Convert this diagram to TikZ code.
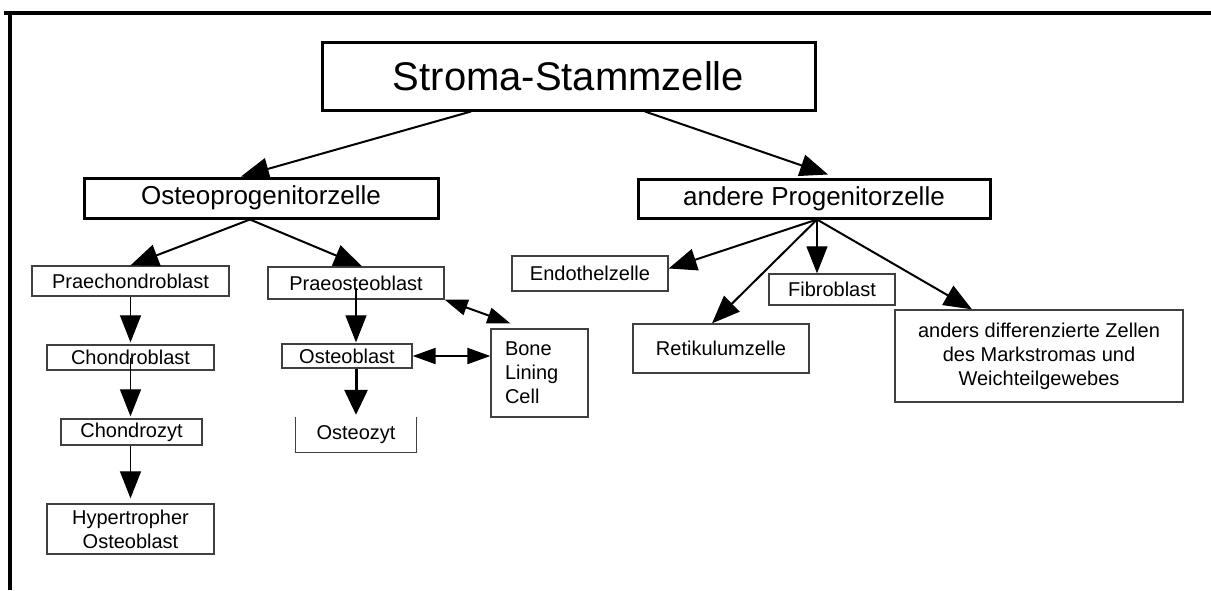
\documentclass[tikz,border=0pt]{standalone}
\usepackage{fontspec}
\setmainfont{Liberation Sans}
\usetikzlibrary{arrows.meta}

\begin{document}
\begin{tikzpicture}[x=1pt, y=-1pt,
        bigbox/.style={draw, line width=3pt, inner sep=0pt},
        cellbox/.style={inner sep=0pt, align=center, font=\fontsize{20}{24}\selectfont},
        cellline/.style={draw=black!75, line width=1.3pt},
        arr/.style={line width=2pt, -{Triangle[length=28pt, width=22pt]}},
        thinarr/.style={line width=1.2pt, -{Triangle[length=27pt, width=21pt]}},
        dblarr/.style={line width=2pt, {Triangle[length=23pt, width=16pt]}-{Triangle[length=23pt, width=16pt]}}]

        \useasboundingbox (0, 0) rectangle (1211, 590);
        \draw[line width=4pt] (10, 590) -- (10, 13) -- (1215, 13);
        \draw[line width=4pt] (4, 13) -- (12, 13);

        \node[bigbox, minimum width=493pt, minimum height=68pt, font=\fontsize{40}{48}\selectfont] (stroma) at (568.5, 76) {Stroma-Stammzelle};
        \node[bigbox, minimum width=354pt, minimum height=40pt, font=\fontsize{26}{30}\selectfont] (osteo) at (261, 198) {Osteoprogenitorzelle};
        \node[bigbox, minimum width=352pt, minimum height=39pt, font=\fontsize{26}{30}\selectfont] (andere) at (814, 198.5) {andere Progenitorzelle};

        \node[cellbox, cellline, minimum width=197pt, minimum height=30pt] (praechondro) at (130.5, 281) {Praechondroblast};
        \node[cellbox, cellline, minimum width=167pt, minimum height=25pt] (chondroblast) at (130.5, 357.5) {Chondroblast};
        \node[cellbox, cellline, minimum width=141pt, minimum height=26pt] (chondrozyt) at (131.5, 432) {Chondrozyt};
        \node[cellbox, cellline, minimum width=167pt, minimum height=50pt] (hyper) at (130.5, 529) {Hypertropher\\Osteoblast};

        \node[cellbox, cellline, minimum width=176pt, minimum height=32pt] (praeosteo) at (356, 283) {Praeosteoblast};
        \node[cellbox, cellline, minimum width=130pt, minimum height=24pt] (osteoblast) at (347, 356) {Osteoblast};
        \node[cellbox, minimum width=120pt, minimum height=35pt] (osteozyt) at (356, 434.5) {Osteozyt};
        \node[cellbox, cellline, minimum width=97pt, minimum height=88pt, text width=69pt, align=left] (bone) at (539.5, 373) {Bone\\Lining\\Cell};

        \node[cellbox, cellline, minimum width=156pt, minimum height=35pt] (endothel) at (590, 273.5) {Endothelzelle};
        \node[cellbox, cellline, minimum width=126pt, minimum height=31pt] (fibro) at (832, 289.5) {Fibroblast};
        \node[cellbox, cellline, minimum width=176pt, minimum height=49pt] (retikulum) at (721, 348.5) {Retikulumzelle};
        \node[cellbox, cellline, minimum width=288pt, minimum height=92pt] (anders) at (1039, 356) {anders differenzierte Zellen\\des Markstromas und\\Weichteilgewebes};

        \draw[cellline] (osteozyt.north west) -- (osteozyt.south west) -- (osteozyt.south east) -- (osteozyt.north east);

        \draw[arr] ([xshift=-97.5pt]stroma.south) -- ([xshift=-20pt]osteo.north);
        \draw[arr] ([xshift=76.5pt]stroma.south) -- ([xshift=14pt, yshift=3pt]andere.north);

        \draw[arr] ([xshift=-11pt]osteo.south) -- (praechondro.north);
        \draw[arr] ([xshift=-11pt]osteo.south) -- ([xshift=6pt]praeosteo.north);

        \draw[arr] ([xshift=3pt]andere.south) -- ([yshift=5pt]endothel.east);
        \draw[thinarr] ([xshift=3pt]andere.south) -- ([xshift=-15pt]fibro.north);
        \draw[arr] ([xshift=3pt]andere.south) -- ([xshift=-9pt]retikulum.north);
        \draw[arr] ([xshift=3pt]andere.south) -- ([xshift=-67pt]anders.north);

        \draw[thinarr] (praechondro.south) -- ([yshift=2pt]chondroblast.north);
        \draw[thinarr] (chondroblast.center) -- ([yshift=2pt]chondroblast.center |- chondrozyt.north);
        \draw[thinarr] (chondrozyt.south -| chondroblast.center) -- ([yshift=5pt]chondroblast.center |- hyper.north);

        \draw[thinarr] ([yshift=-5pt]praeosteo.center) -- ([yshift=1pt]praeosteo.center |- osteoblast.north);
        \draw[line width=3pt, -{Triangle[length=25pt, width=23pt]}] (osteozyt.center |- osteoblast.south) -- ([yshift=2pt]osteozyt.north);

        \draw[dblarr] (praeosteo.south east) -- ([xshift=20pt, yshift=5pt]bone.north west);
        \draw[dblarr] (osteoblast.east) -- (osteoblast.east -| bone.west);

    \end{tikzpicture}
\end{document}
